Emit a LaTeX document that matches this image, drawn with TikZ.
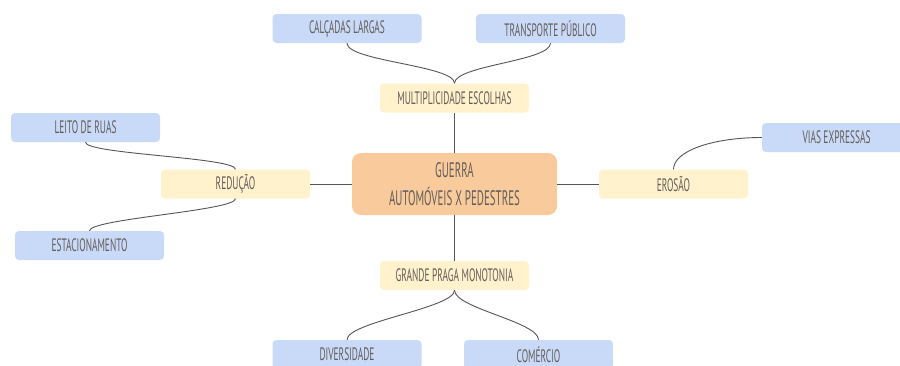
\documentclass[tikz,border=0pt]{standalone}
\usepackage{fontspec}
\setmainfont{PT Sans}[FakeStretch=0.52]
\usetikzlibrary{positioning}

\definecolor{boxblue}{HTML}{C9DAF8}
\definecolor{boxyellow}{HTML}{FFF2CC}
\definecolor{boxorange}{HTML}{F9CB9C}
\definecolor{inktext}{HTML}{645E5A}
\definecolor{inkline}{HTML}{555555}

\begin{document}
\begin{tikzpicture}[
    x=1pt, y=-1pt,
    % caixas das folhas (azul)
    leaf/.style={fill=boxblue, rounded corners=4pt, minimum width=149pt, minimum height=29pt,
        inner sep=0pt, text=inktext, font=\fontsize{18}{20}\selectfont},
    % caixas dos ramos (amarelo)
    branch/.style={leaf, fill=boxyellow},
    % caixa central (laranja)
    hub/.style={leaf, fill=boxorange, rounded corners=9pt, minimum width=205pt, minimum height=62pt,
        align=center, font=\fontsize{21}{28}\selectfont},
    link/.style={draw=inkline, line width=0.9pt}
]

% --- 1. Moldura ---
\useasboundingbox (0,0) rectangle (900,365);
\fill[white] (0,0) rectangle (900,365);
\clip (0,0) rectangle (900,365);

% --- 2. Centro e ramos ---
\node[hub] (guerra) at (454.5,184) {GUERRA\\AUTOMÓVEIS X PEDESTRES};

\node[branch] (escolhas) at (454.5,98) {MULTIPLICIDADE ESCOLHAS};
\node[branch] (reducao) at (235.5,184) {REDUÇÃO};
\node[branch] (erosao) at (673.5,184) {EROSÃO};
\node[branch] (monotonia) at (454.5,275.5) {GRANDE PRAGA MONOTONIA};

% --- 3. Folhas ---
\node[leaf] (calcadas) at (347,28.5) {CALÇADAS LARGAS};
\node[leaf] (transporte) at (550.5,28.5) {TRANSPORTE PÚBLICO};
\node[leaf] (leito) at (85.5,127.5) {LEITO DE RUAS};
\node[leaf] (estac) at (89.5,245.5) {ESTACIONAMENTO};
\node[leaf] (vias) at (836.5,137.5) {VIAS EXPRESSAS};
\node[leaf] (divers) at (347,354.5) {DIVERSIDADE};
\node[leaf, text depth=0pt] (comercio) at (538.5,354.5) {COMÉRCIO}; % acento sobe o texto

% --- 4. Ligações ---
% centro -> ramos (retas)
\draw[link] (guerra.north) -- (escolhas.south);
\draw[link] (guerra.west) -- (reducao.east);
\draw[link] (guerra.east) -- (erosao.west);
\draw[link] (guerra.south) -- (monotonia.north);

% ramos -> folhas (curvas)
\draw[link] (escolhas.north) .. controls +(0,-18) and +(0,18) .. (calcadas.south);
\draw[link] (escolhas.north) .. controls +(0,-18) and +(0,18) .. (transporte.south);
\draw[link] (reducao.north) .. controls +(0,-12) and +(0,12) .. (leito.south);
\draw[link] (reducao.south) .. controls +(0,12) and +(0,-12) .. (estac.north);
\draw[link] (erosao.north) .. controls +(0,-18) and +(-50,0) .. (vias.west);
\draw[link] (monotonia.south) .. controls +(0,18) and +(0,-18) .. (divers.north);
\draw[link] (monotonia.south) .. controls +(0,18) and +(0,-18) .. (comercio.north);

\end{tikzpicture}
\end{document}
